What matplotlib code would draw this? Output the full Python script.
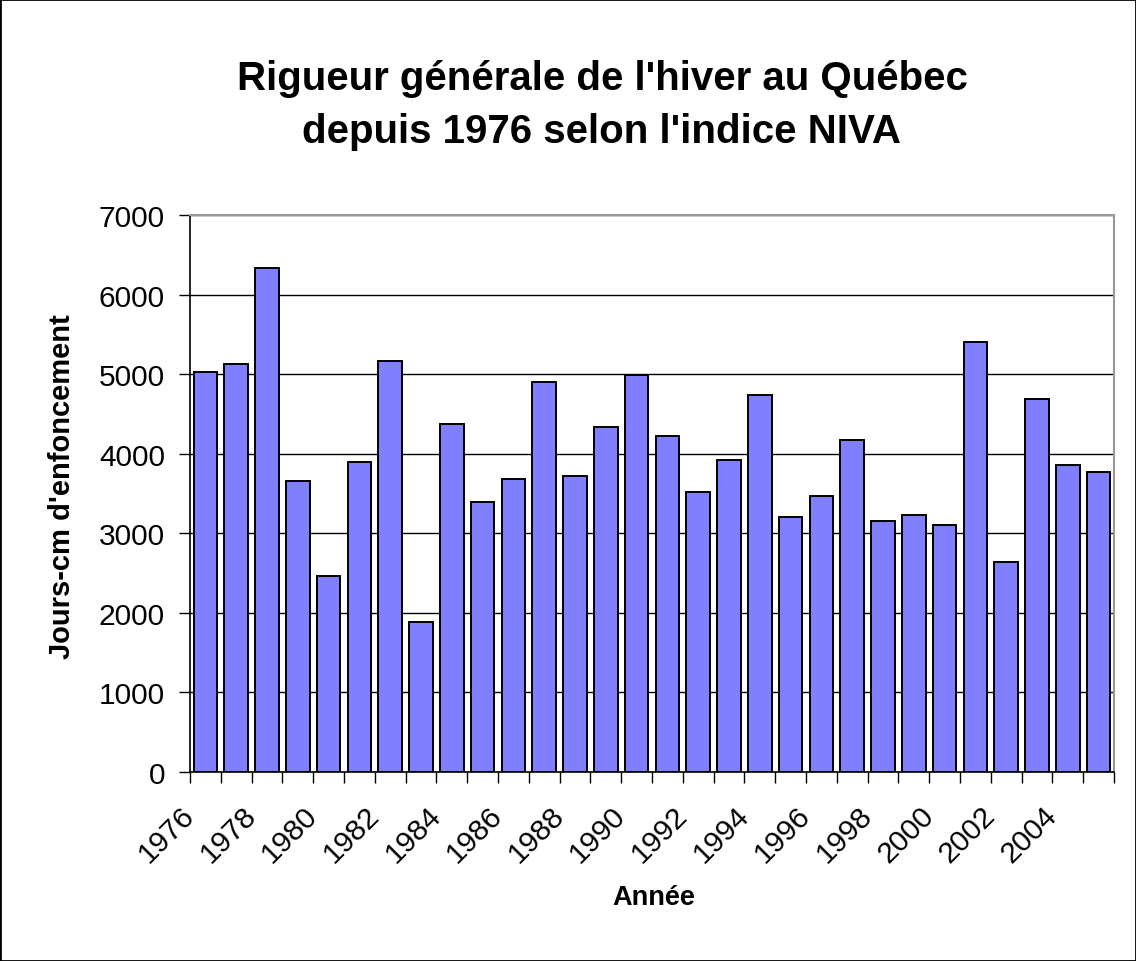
import numpy as np
import matplotlib
matplotlib.use("Agg")
import matplotlib.pyplot as plt
from matplotlib.patches import Rectangle

plt.rcParams['font.family'] = ['Liberation Sans', 'DejaVu Sans']

# indice NIVA (jours-cm d'enfoncement), hivers 1976 a 2005
years = list(range(1976, 2006))
niva = [5030, 5130, 6340, 3660, 2460, 3900, 5170, 1890, 4370, 3390,
        3680, 4900, 3720, 4330, 4990, 4220, 3520, 3920, 4740, 3200,
        3470, 4170, 3160, 3230, 3110, 5410, 2640, 4690, 3860, 3770]
yticks = [0, 1000, 2000, 3000, 4000, 5000, 6000, 7000]

fig = plt.figure(figsize=(11.36, 9.62), dpi=100)
ax = fig.add_axes([190 / 1136, 1 - 773 / 962, (1114 - 190) / 1136, (773 - 216) / 962])

x = np.arange(len(years))
ax.bar(x, niva, width=0.76, color='#8080FF', edgecolor='black', linewidth=1.4, zorder=3)

ax.set_xlim(-0.5, len(years) - 0.5)
ax.set_ylim(0, 7000)
ax.set_yticks(yticks)
ax.set_yticklabels([str(v) for v in yticks])
ax.yaxis.grid(True, color='black', linewidth=1.0, zorder=0)

# tick marks between categories, label every second year
bounds = np.arange(len(years) + 1) - 0.5
labels = [str(years[i]) if (i % 2 == 0 and i < 29) else '' for i in range(len(bounds))]
ax.set_xticks(bounds)
ax.set_xticklabels(labels, rotation=45, ha='right', va='center', rotation_mode='anchor')

ax.tick_params(axis='both', direction='out', length=8, width=1, labelsize=21.5, colors='black')
ax.tick_params(axis='y', pad=10)
ax.tick_params(axis='x', pad=20)

for side in ['left', 'bottom']:
    ax.spines[side].set_color('black')
    ax.spines[side].set_linewidth(1.2)
for side in ['top', 'right']:
    ax.spines[side].set_color('#999999')
    ax.spines[side].set_linewidth(1.5)

fig.text(62 / 1136, 1 - 487 / 962, "Jours-cm d'enfoncement", rotation=90,
         ha='center', va='center', fontsize=21, fontweight='bold')
fig.text(654 / 1136, 1 - 898 / 962, "Année", ha='center', va='center',
         fontsize=19.5, fontweight='bold')
fig.text(602 / 1136, 1 - 106 / 962,
         "Rigueur générale de l'hiver au Québec\ndepuis 1976 selon l'indice NIVA",
         ha='center', va='center', fontsize=29, fontweight='bold', linespacing=1.5)

fig.patches.append(Rectangle((0, 0), 1, 1, transform=fig.transFigure, fill=False,
                             edgecolor='black', linewidth=2))

fig.savefig('out.png', dpi=100)
